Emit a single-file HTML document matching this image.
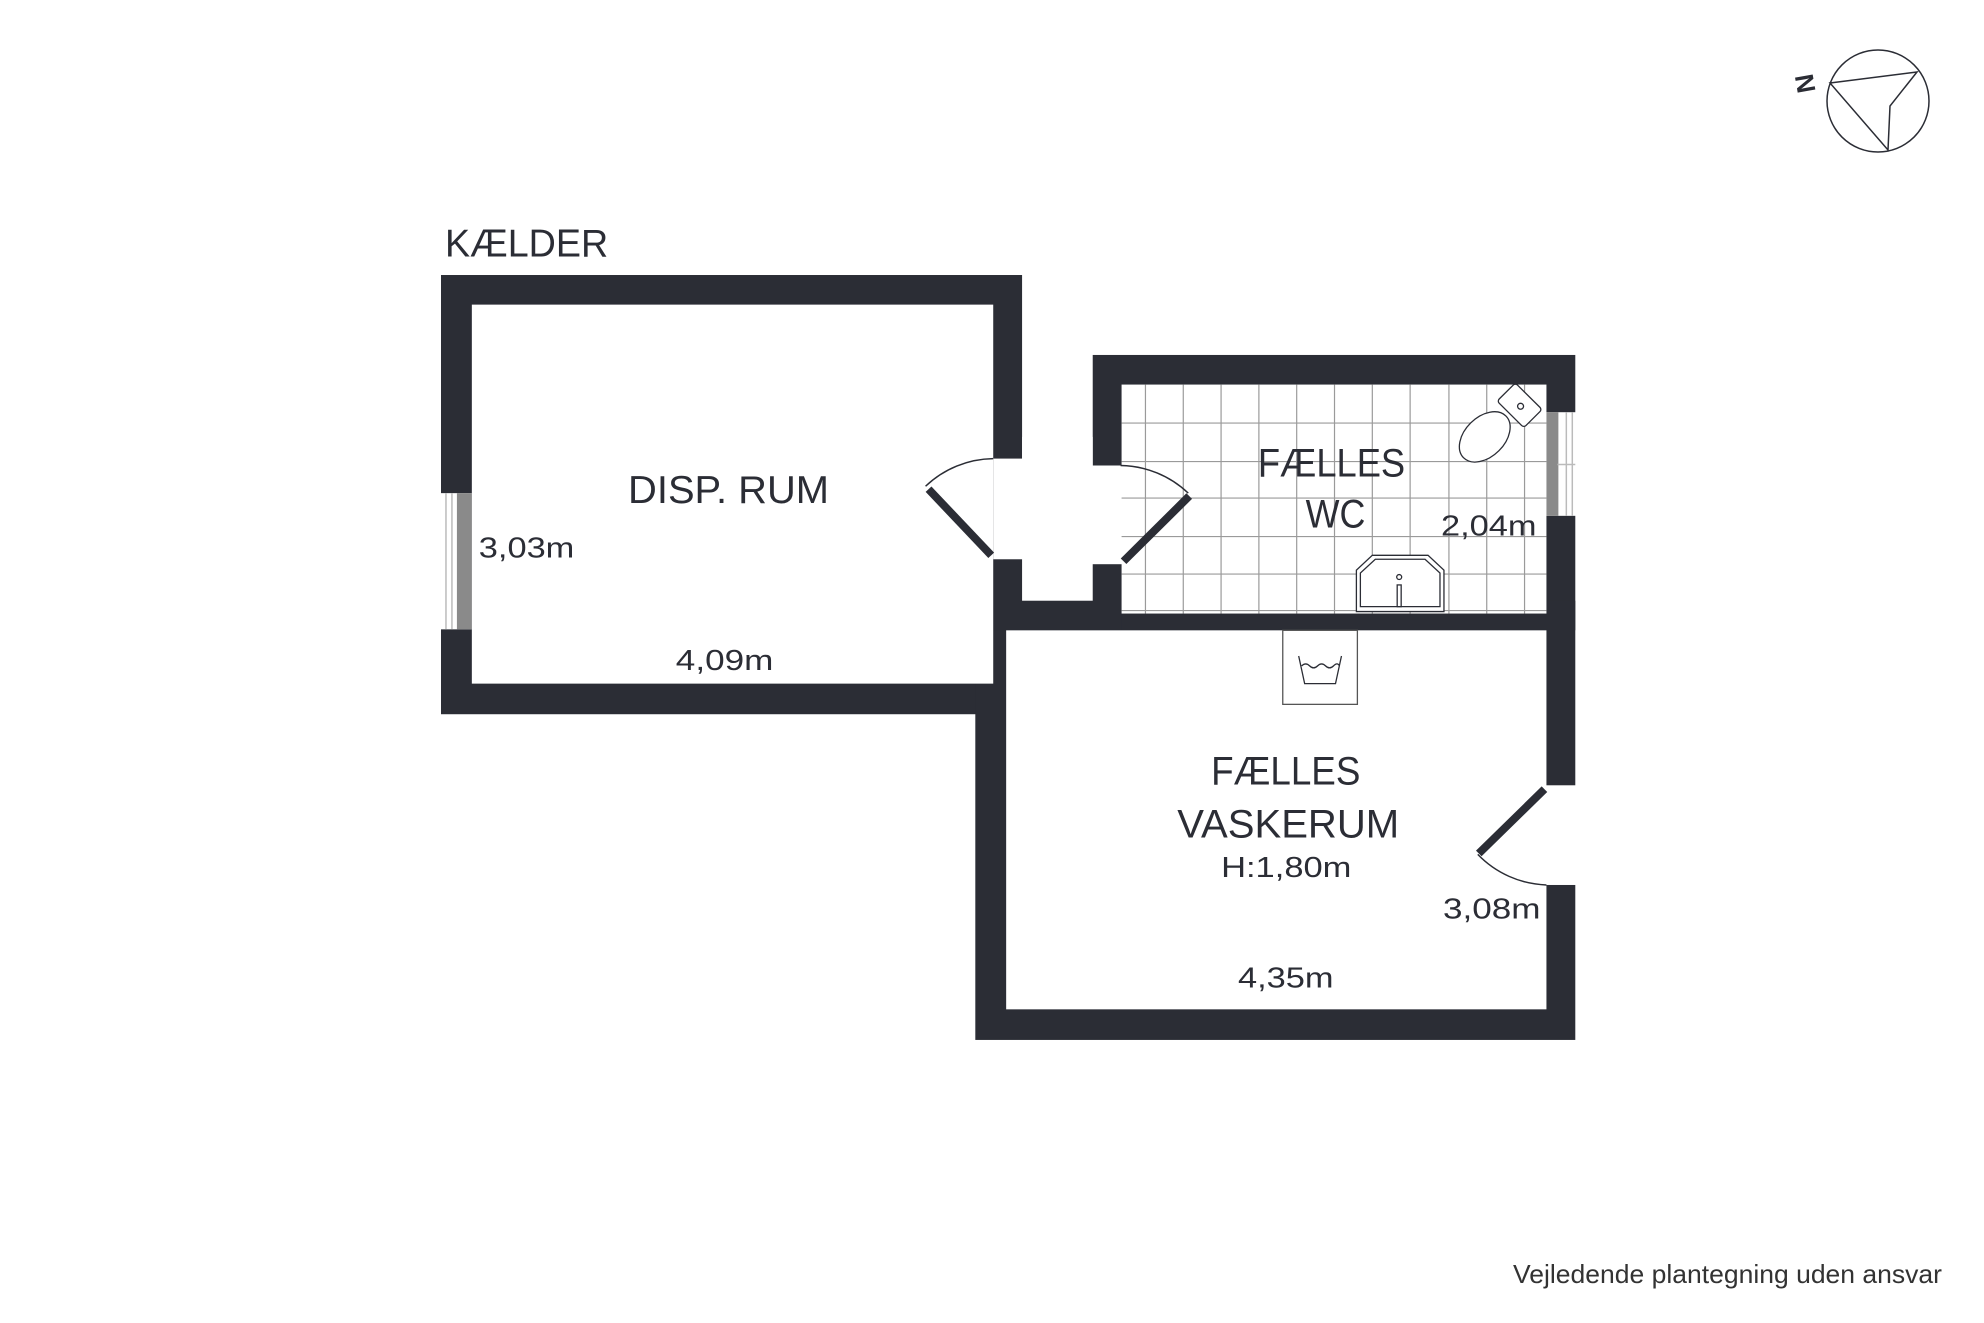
<!DOCTYPE html>
<html><head><meta charset="utf-8"><style>html,body{margin:0;padding:0;background:#fff}svg{display:block}</style></head>
<body>
<svg width="1984" height="1323" viewBox="0 0 1984 1323" xmlns="http://www.w3.org/2000/svg">
<rect width="1984" height="1323" fill="#fff"/>
<g transform="matrix(0.995 0 0 0.987 2.2 2.6)">
<g fill="#2b2d35">
<rect x="441" y="276" width="584" height="445"/>
<rect x="1096" y="357" width="485" height="279"/>
<rect x="978" y="606" width="603" height="445"/>
<rect x="996" y="564" width="129" height="72"/>
</g>
<g fill="#fff">
<rect x="472" y="306" width="524" height="384"/>
<rect x="1125" y="387" width="427" height="232"/>
<rect x="1009" y="636" width="543" height="384"/>
<rect x="1025" y="440" width="71" height="166"/>
<rect x="996" y="462" width="30" height="102"/>
<rect x="1095" y="469" width="31" height="100"/>
<rect x="1551" y="793" width="31" height="101"/>
<rect x="441" y="497" width="31" height="138"/>
<rect x="1551" y="415" width="31" height="105"/>
</g>
<rect x="457" y="497" width="15" height="138" fill="#8a8a8a"/>
<line x1="446" y1="497" x2="446" y2="635" stroke="#bbb" stroke-width="1.5"/>
<line x1="452" y1="497" x2="452" y2="635" stroke="#bbb" stroke-width="1.5"/>
<rect x="1552" y="415" width="12" height="105" fill="#8a8a8a"/>
<line x1="1572" y1="415" x2="1572" y2="520" stroke="#bbb" stroke-width="1.5"/>
<line x1="1578" y1="415" x2="1578" y2="520" stroke="#bbb" stroke-width="1.5"/>
<line x1="1563" y1="468" x2="1581" y2="468" stroke="#bbb" stroke-width="1.5"/>
<g stroke="#9a9a9a" stroke-width="1.2">
<line x1="1149" y1="387" x2="1149" y2="619"/><line x1="1187" y1="387" x2="1187" y2="619"/><line x1="1225" y1="387" x2="1225" y2="619"/><line x1="1263" y1="387" x2="1263" y2="619"/><line x1="1301" y1="387" x2="1301" y2="619"/><line x1="1339" y1="387" x2="1339" y2="619"/><line x1="1377" y1="387" x2="1377" y2="619"/><line x1="1415" y1="387" x2="1415" y2="619"/><line x1="1454" y1="387" x2="1454" y2="619"/><line x1="1492" y1="387" x2="1492" y2="619"/><line x1="1530" y1="387" x2="1530" y2="619"/>
<line x1="1125" y1="426" x2="1552" y2="426"/><line x1="1125" y1="465" x2="1552" y2="465"/><line x1="1125" y1="502" x2="1552" y2="502"/><line x1="1125" y1="541" x2="1552" y2="541"/><line x1="1125" y1="579" x2="1552" y2="579"/><line x1="1125" y1="616" x2="1552" y2="616"/>
</g>
<g fill="none" stroke="#2b2d35">
<path d="M928 490 A100 100 0 0 1 996 462" stroke-width="1.5"/>
<line x1="931" y1="493" x2="994" y2="560" stroke-width="8"/>
<path d="M1124 469 A100 100 0 0 1 1192 497" stroke-width="1.5"/>
<line x1="1127" y1="566" x2="1193" y2="500" stroke-width="8"/>
<path d="M1483 863 A100 100 0 0 0 1552 894" stroke-width="1.5"/>
<line x1="1550" y1="797" x2="1484" y2="862" stroke-width="8"/>
</g>
<g fill="#fff" stroke="#2b2d35" stroke-width="1.3">
<ellipse cx="1490" cy="440" rx="20" ry="30" transform="rotate(45 1490 440)"/>
<rect x="1506" y="395" width="38" height="26" rx="3" transform="rotate(45 1525 408)"/>
<circle cx="1526" cy="409" r="3"/>
</g>
<g fill="#fff" stroke="#2b2d35" stroke-width="1.3">
<path d="M1361 617 L1361 575 L1377 560 L1433 560 L1449 575 L1449 617 Z"/>
<path d="M1365 612 L1365 578 L1380 564 L1430 564 L1445 578 L1445 612 Z"/>
<circle cx="1404" cy="582" r="2.5"/>
<rect x="1402" y="590" width="4" height="22"/>
</g>
<g fill="none" stroke="#2b2d35" stroke-width="1.3">
<rect x="1287" y="636" width="75" height="75" stroke="#555"/>
<path d="M1303 662 L1309 690 L1340 690 L1346 662"/>
<path d="M1306 672 q4 -4 8 0 q4 4 8 0 q4 -4 8 0 q4 4 8 0 q4 -4 6 0"/>
</g>
<g font-family="Liberation Sans, sans-serif" fill="#2b2d35">
<text x="445" y="257" font-size="39" textLength="164" lengthAdjust="spacingAndGlyphs">KÆLDER</text>
<text x="629" y="507" font-size="39" textLength="202" lengthAdjust="spacingAndGlyphs">DISP. RUM</text>
<text x="1262" y="480" font-size="40" textLength="148" lengthAdjust="spacingAndGlyphs">FÆLLES</text>
<text x="1310" y="532" font-size="40" textLength="60" lengthAdjust="spacingAndGlyphs">WC</text>
<text x="1215" y="792" font-size="40" textLength="150" lengthAdjust="spacingAndGlyphs">FÆLLES</text>
<text x="1181" y="846" font-size="40" textLength="223" lengthAdjust="spacingAndGlyphs">VASKERUM</text>
<g font-size="29">
<text x="1225" y="886" textLength="131" lengthAdjust="spacingAndGlyphs">H:1,80m</text>
<text x="479" y="562" textLength="96" lengthAdjust="spacingAndGlyphs">3,03m</text>
<text x="677" y="676" textLength="98" lengthAdjust="spacingAndGlyphs">4,09m</text>
<text x="1446" y="540" textLength="96" lengthAdjust="spacingAndGlyphs">2,04m</text>
<text x="1448" y="928" textLength="98" lengthAdjust="spacingAndGlyphs">3,08m</text>
<text x="1242" y="998" textLength="96" lengthAdjust="spacingAndGlyphs">4,35m</text>
</g>
</g>
</g>
<text x="1513" y="1283" font-family="Liberation Sans, sans-serif" font-size="26" fill="#333" textLength="429" lengthAdjust="spacingAndGlyphs">Vejledende plantegning uden ansvar</text>
<g fill="none" stroke="#2b2d35" stroke-width="1.5">
<circle cx="1878" cy="101" r="51"/>
<path d="M1830 83 L1917 72 L1890 106 L1888 150 Z"/>
</g>
<text x="0" y="0" font-family="Liberation Sans, sans-serif" font-weight="bold" font-size="26" fill="#2b2d35" transform="translate(1814,82) rotate(-100)" text-anchor="middle">N</text>
</svg>
</body></html>
